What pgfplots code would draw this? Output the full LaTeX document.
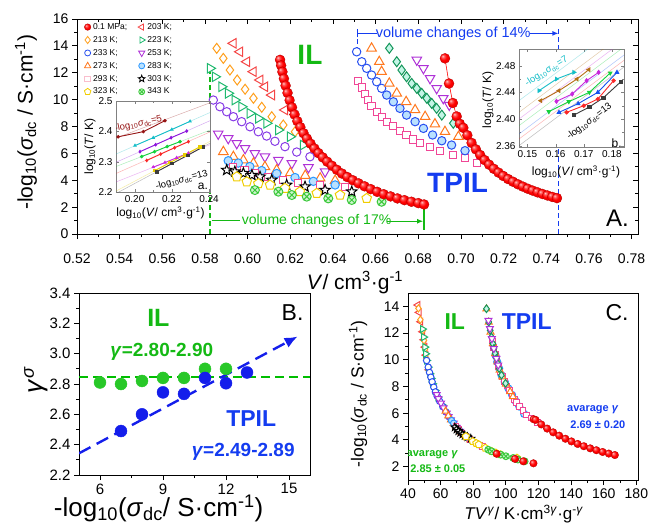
\documentclass[border=0pt]{standalone}
\usepackage{fontspec}
\setmainfont{Liberation Sans}
\usepackage{pgfplots}
\pgfplotsset{compat=1.18}
\usetikzlibrary{plotmarks,arrows.meta}
\newcommand{\fs}[1]{\fontsize{#1}{#1}\selectfont}
\definecolor{c203}{RGB}{245,70,70}
\definecolor{c213}{RGB}{255,160,30}
\definecolor{c223}{RGB}{30,185,110}
\definecolor{c233}{RGB}{40,80,240}
\definecolor{c233v}{RGB}{135,60,230}
\definecolor{c253}{RGB}{175,50,215}
\definecolor{c273}{RGB}{255,120,30}
\definecolor{c283}{RGB}{40,150,255}
\definecolor{c283f}{RGB}{185,225,255}
\definecolor{c293}{RGB}{240,70,150}
\definecolor{c293f}{RGB}{250,190,205}
\definecolor{c323}{RGB}{240,205,0}
\definecolor{c343}{RGB}{60,200,60}
\definecolor{c343f}{RGB}{205,245,205}
\definecolor{cDia}{RGB}{20,150,90}
\definecolor{cDiaf}{RGB}{195,245,230}
\definecolor{cGreen}{RGB}{20,185,20}
\definecolor{cBlue}{RGB}{20,60,240}
\definecolor{cBg}{RGB}{40,200,40}
\definecolor{cBgl}{RGB}{0,190,0}
\definecolor{cBb}{RGB}{20,30,235}
\definecolor{iDR}{RGB}{150,20,20}
\definecolor{iCy}{RGB}{20,190,200}
\definecolor{iPu}{RGB}{140,20,220}
\definecolor{iGr}{RGB}{20,210,60}
\definecolor{iRe}{RGB}{250,40,40}
\definecolor{iMa}{RGB}{200,40,220}
\definecolor{iYe}{RGB}{230,205,0}
\definecolor{iBk}{RGB}{60,60,60}
\definecolor{iBr}{RGB}{180,110,20}
\definecolor{iBl}{RGB}{20,80,240}
\pgfdeclareplotmark{fivestar}{%
  \pgfpathmoveto{\pgfpointpolar{90}{\pgfplotmarksize}}%
  \pgfpathlineto{\pgfpointpolar{126}{0.42\pgfplotmarksize}}%
  \pgfpathlineto{\pgfpointpolar{162}{\pgfplotmarksize}}%
  \pgfpathlineto{\pgfpointpolar{198}{0.42\pgfplotmarksize}}%
  \pgfpathlineto{\pgfpointpolar{234}{\pgfplotmarksize}}%
  \pgfpathlineto{\pgfpointpolar{270}{0.42\pgfplotmarksize}}%
  \pgfpathlineto{\pgfpointpolar{306}{\pgfplotmarksize}}%
  \pgfpathlineto{\pgfpointpolar{342}{0.42\pgfplotmarksize}}%
  \pgfpathlineto{\pgfpointpolar{18}{\pgfplotmarksize}}%
  \pgfpathlineto{\pgfpointpolar{54}{0.42\pgfplotmarksize}}%
  \pgfpathclose\pgfusepathqfillstroke}
\pgfdeclareradialshading{redball}{\pgfpoint{-12bp}{12bp}}{color(0bp)=(red!20!white); color(7bp)=(red!65!white); color(17bp)=(red); color(34bp)=(red!90!black); color(50bp)=(red!72!black)}
\pgfdeclareplotmark{rball}{%
  \pgfpathcircle{\pgfpointorigin}{\pgfplotmarksize}%
  \pgfshadepath{redball}{0}%
  \pgfsetstrokecolor{red!70!black}\pgfsetlinewidth{0.3pt}%
  \pgfusepath{stroke}}
\pgfplotsset{
  base/.style={scale only axis, anchor=north west, tick align=outside, xtick pos=left, ytick pos=left,
    major tick length=5pt, minor tick length=3pt, axis line style={line width=1pt},
    every tick/.append style={line width=0.9pt, black}, /pgf/number format/assume math mode=true},
  om/.style 2 args={only marks, forget plot, mark=#1, mark options={draw=#2, fill=white, line width=1pt, solid}},
  ball/.style={only marks, forget plot, mark=rball},
  il/.style={forget plot, mark=*, mark size=1.3pt, line width=0.9pt},
  pale/.style={forget plot, line width=0.5pt, opacity=0.35},
}
\begin{document}
\begin{tikzpicture}
\path[use as bounding box] (0,0) rectangle (652pt,-523pt);
% ================= Panel A =================
\begin{axis}[base, at={(77pt,-19pt)}, width=561pt, height=215pt,
  xmin=0.52, xmax=0.783, ymin=0, ymax=16,
  xtick={0.52,0.54,0.56,0.58,0.60,0.62,0.64,0.66,0.68,0.70,0.72,0.74,0.76,0.78},
  ytick={0,2,4,6,8,10,12,14,16}, minor x tick num=1, minor y tick num=1,
  xticklabel style={/pgf/number format/fixed,/pgf/number format/fixed zerofill,/pgf/number format/precision=2, yshift=-11pt},
  tick label style={font=\fs{14}},
  xlabel={\textit{V}/ cm\textsuperscript{3}·g\textsuperscript{-1}},
  ylabel={-log\textsubscript{10}(\textit{σ}\textsubscript{dc} / S·cm\textsuperscript{-1})},
  every axis x label/.style={at={(axis description cs:0.4955,-0.225)},anchor=center,font=\fs{21}},
  every axis y label/.style={at={(axis description cs:-0.0909,0.52)},anchor=center,rotate=90,font=\fs{21}},
  legend columns=2, legend cell align=left,
  legend style={at={(axis description cs:0.0125,0.99)}, anchor=north west, draw=none, fill=none,
    font=\fs{8.5}, row sep=1.5pt, inner sep=0pt, /tikz/every even column/.append style={column sep=9pt}},
]
% ---- IL isotherms
\addplot[om={triangle*}{c203}, every mark/.append style={rotate=90}, mark size=5.5pt] coordinates {
(0.5933,14.19)(0.5964,13.56)(0.5996,12.82)(0.6027,12.08)(0.6058,11.46)(0.6081,10.96)(0.6113,10.34)(0.6175,9.23)};
\addplot[om={diamond*}{c213}, mark size=5pt] coordinates {
(0.5855,13.82)(0.5886,13.07)(0.5917,12.20)(0.5951,11.46)(0.5988,10.77)(0.6027,10.10)(0.6066,9.43)(0.6113,8.73)(0.6167,8.11)(0.6222,7.61)};
\addplot[om={triangle*}{c223}, every mark/.append style={rotate=-90}, mark size=5.5pt] coordinates {
(0.5824,12.33)(0.5847,11.70)(0.5878,10.96)(0.5909,10.47)(0.5940,9.97)(0.5972,9.47)(0.6011,8.98)(0.6050,8.61)(0.6089,8.24)(0.6144,7.74)(0.6199,7.24)(0.6260,6.62)};
\addplot[om={*}{c233v}, mark size=4.2pt] coordinates {
(0.5839,9.97)(0.5870,9.47)(0.5902,9.10)(0.5933,8.73)(0.5972,8.36)(0.6011,7.98)(0.6050,7.61)(0.6089,7.29)(0.6128,6.90)(0.6175,6.50)(0.6230,6.10)(0.6292,5.75)};
\addplot[om={triangle*}{c253}, every mark/.append style={rotate=180}, mark size=5.5pt] coordinates {
(0.5862,7.45)(0.5909,7.12)(0.5949,6.75)(0.5988,6.38)(0.6034,6.00)(0.6081,5.75)(0.6144,5.50)(0.6207,5.26)(0.6285,4.95)(0.6363,4.64)};
\addplot[om={triangle*}{c273}, mark size=5.5pt] coordinates {
(0.5886,6.12)(0.5933,5.75)(0.5980,5.50)(0.6027,5.26)(0.6081,5.00)(0.6136,4.76)(0.6200,4.55)(0.6270,4.35)(0.6340,4.15)(0.6410,3.98)};
\addplot[om={*}{c283}, every mark/.append style={fill=c283f}, mark size=4.2pt] coordinates {
(0.5909,5.45)(0.5956,5.28)(0.6010,5.02)(0.6066,4.72)(0.6136,4.50)(0.6222,4.20)(0.6308,3.92)(0.6410,3.65)};
\addplot[om={square*}{c293}, mark size=3.6pt] coordinates {
(0.5933,5.00)(0.5985,4.78)(0.6034,4.52)(0.6097,4.26)(0.6167,4.02)(0.6237,3.77)(0.6340,3.62)(0.6456,3.52)};
\addplot[om={fivestar}{black}, mark size=5.5pt] coordinates {
(0.5902,4.76)(0.5940,4.64)(0.5980,4.52)(0.6020,4.38)(0.6058,4.26)(0.6113,4.02)(0.6183,3.65)(0.6269,3.52)(0.6363,3.27)(0.6488,3.15)};
\addplot[om={pentagon*}{c323}, mark size=5pt] coordinates {
(0.5949,4.26)(0.5996,3.89)(0.6050,3.75)(0.6105,3.65)(0.6175,3.40)(0.6245,3.15)(0.6324,3.03)(0.6433,2.90)(0.6558,2.65)};
\addplot[om={otimes*}{c343}, every mark/.append style={fill=c343f}, mark size=4.5pt] coordinates {
(0.6034,3.27)(0.6144,3.15)(0.6207,2.90)(0.6277,2.78)(0.6378,2.65)(0.6488,2.53)(0.6628,2.40)};
% ---- TPIL isotherms
\addplot[om={square*}{c293}, mark size=3.6pt] coordinates {
(0.6519,11.41)(0.6535,10.91)(0.6550,10.42)(0.6566,9.97)(0.6581,9.52)(0.6605,9.10)(0.6628,8.73)(0.6655,8.36)(0.6683,8.04)(0.6714,7.69)(0.6745,7.37)(0.6777,7.04)(0.6808,6.79)(0.6855,6.50)(0.6902,6.20)(0.6964,5.88)(0.7019,5.63)(0.7074,5.30)};
\addplot[om={*}{c233}, mark size=4.2pt] coordinates {
(0.6511,13.56)(0.6535,12.82)(0.6558,12.33)(0.6581,11.83)(0.6605,11.33)(0.6628,10.84)};
\addplot[om={*}{c233}, every mark/.append style={fill=c283f}, mark size=4.2pt] coordinates {
(0.6652,10.34)(0.6683,9.84)(0.6714,9.35)(0.6745,8.85)(0.6785,8.36)(0.6824,7.86)(0.6867,7.37)(0.6910,6.94)(0.6956,6.62)(0.7019,6.20)};
\addplot[om={triangle*}{c273}, mark size=5.5pt] coordinates {
(0.6581,13.82)(0.6617,12.82)(0.6628,12.08)(0.6664,11.21)(0.6699,10.47)(0.6743,9.84)(0.6785,9.23)(0.6832,8.73)(0.6878,8.18)(0.6925,7.61)(0.6988,7.24)};
\addplot[om={diamond*}{cDia}, every mark/.append style={fill=cDiaf}, mark size=5pt] coordinates {
(0.6664,13.82)(0.6699,12.82)(0.6722,12.20)(0.6745,11.70)(0.6769,11.21)(0.6793,10.84)(0.6816,10.47)(0.6840,10.10)(0.6863,9.72)(0.6886,9.35)(0.6910,8.85)(0.6964,8.24)};
\addplot[om={triangle*}{c253}, every mark/.append style={rotate=180}, mark size=5.5pt] coordinates {
(0.6793,12.95)(0.6824,12.33)(0.6855,11.58)(0.6886,10.84)(0.6917,10.10)(0.6945,9.60)};
% ---- 0.1 MPa isobars
\addplot[ball, mark size=5pt] coordinates {
(0.6152,12.96)(0.6157,12.54)(0.6163,12.07)(0.6170,11.56)(0.6178,11.04)(0.6187,10.50)(0.6197,9.95)(0.6208,9.42)(0.6220,8.89)(0.6233,8.40)(0.6247,7.95)(0.6262,7.50)(0.6278,7.10)(0.6295,6.72)(0.6313,6.36)(0.6332,6.02)(0.6352,5.70)(0.6373,5.38)(0.6395,5.08)(0.6418,4.78)(0.6442,4.50)(0.6467,4.24)(0.6493,4.00)(0.6520,3.77)(0.6548,3.55)(0.6577,3.34)(0.6607,3.14)(0.6638,2.96)(0.6670,2.80)(0.6702,2.65)(0.6735,2.52)(0.6768,2.40)(0.6800,2.30)(0.6827,2.20)};
\addplot[forget plot, red, line width=0.6pt, mark=rball, mark size=5pt] coordinates {
(0.6925,13.07)(0.6944,11.20)(0.6962,9.75)(0.6980,8.75)(0.6995,8.20)(0.7011,7.90)(0.7030,7.35)(0.7050,6.78)(0.7070,6.30)(0.7090,5.88)(0.7111,5.50)(0.7132,5.16)(0.7154,4.85)(0.7176,4.57)(0.7198,4.32)(0.7221,4.09)(0.7244,3.89)(0.7267,3.70)(0.7290,3.53)(0.7313,3.37)(0.7336,3.23)(0.7359,3.10)(0.7382,2.98)(0.7405,2.87)(0.7428,2.76)(0.7450,2.67)};
% ---- annotations
\node[font=\fs{28}\bfseries, text=cGreen] at (axis cs:0.6292,13.3) {IL};
\node[font=\fs{28}\bfseries, text=cBlue] at (axis cs:0.6984,3.8) {TPIL};
\node[font=\fs{24}] at (axis cs:0.7734,1.15) {A.};
\draw[cGreen, line width=1.3pt, dash pattern=on 5pt off 3pt] (axis cs:0.5823,0) -- (axis cs:0.5823,12.3);
\draw[cGreen, line width=1.2pt] (axis cs:0.5831,0.99) -- (axis cs:0.5964,0.99);
\node[text=cGreen, font=\fs{14}] at (axis cs:0.6323,0.99) {volume changes of 17\%};
\draw[cGreen, line width=1.2pt, -{Latex[length=6pt,width=5pt]}] (axis cs:0.6651,0.95) -- (axis cs:0.6823,0.95);
\draw[cGreen, line width=1.2pt] (axis cs:0.6827,1.93) -- (axis cs:0.6827,0.3);
\draw[cBlue, line width=1.2pt] (axis cs:0.6514,14.63) -- (axis cs:0.6514,15.23);
\draw[cBlue, line width=1.2pt] (axis cs:0.6514,14.93) -- (axis cs:0.6605,14.93);
\draw[cBlue, line width=1.2pt, dash pattern=on 5pt off 3pt] (axis cs:0.6514,14.5) -- (axis cs:0.6514,13.5);
\node[text=cBlue, font=\fs{14.5}] at (axis cs:0.6964,14.93) {volume changes of 14\%};
\draw[cBlue, line width=1.2pt, -{Latex[length=6pt,width=5pt]}] (axis cs:0.7324,14.93) -- (axis cs:0.7457,14.93);
\draw[cBlue, line width=1.2pt, dash pattern=on 5pt off 3pt] (axis cs:0.7457,15.23) -- (axis cs:0.7457,0);
% ---- legend
\addlegendimage{only marks, mark=rball, mark size=3.3pt}\addlegendentry{0.1 MPa;}
\addlegendimage{only marks, mark=triangle*, mark options={draw=c203, fill=white, line width=0.8pt, rotate=90}, mark size=3.6pt}\addlegendentry{203 K;}
\addlegendimage{only marks, mark=diamond*, mark options={draw=c213, fill=white, line width=0.8pt}, mark size=3.6pt}\addlegendentry{213 K;}
\addlegendimage{only marks, mark=triangle*, mark options={draw=c223, fill=white, line width=0.8pt, rotate=-90}, mark size=3.6pt}\addlegendentry{223 K;}
\addlegendimage{only marks, mark=*, mark options={draw=c233, fill=white, line width=0.8pt}, mark size=3pt}\addlegendentry{233 K;}
\addlegendimage{only marks, mark=triangle*, mark options={draw=c253, fill=white, line width=0.8pt, rotate=180}, mark size=3.6pt}\addlegendentry{253 K;}
\addlegendimage{only marks, mark=triangle*, mark options={draw=c273, fill=white, line width=0.8pt}, mark size=3.6pt}\addlegendentry{273 K;}
\addlegendimage{only marks, mark=*, mark options={draw=c283, fill=c283f, line width=0.8pt}, mark size=3pt}\addlegendentry{283 K;}
\addlegendimage{only marks, mark=square*, mark options={draw=c293f, fill=white, line width=0.8pt}, mark size=2.8pt}\addlegendentry{293 K;}
\addlegendimage{only marks, mark=fivestar, mark options={draw=black, fill=white, line width=0.8pt}, mark size=3.6pt}\addlegendentry{303 K;}
\addlegendimage{only marks, mark=pentagon*, mark options={draw=c323, fill=white, line width=0.8pt}, mark size=3.4pt}\addlegendentry{323 K;}
\addlegendimage{only marks, mark=otimes*, mark options={draw=c343, fill=c343f, line width=0.8pt}, mark size=3pt}\addlegendentry{343 K}
\end{axis}
% top/right inner ticks of panel A
\begin{axis}[scale only axis, anchor=north west, at={(77pt,-19pt)}, width=561pt, height=215pt,
  xmin=0.52, xmax=0.783, ymin=0, ymax=16, axis line style={draw=none},
  xtick={0.52,0.54,0.56,0.58,0.60,0.62,0.64,0.66,0.68,0.70,0.72,0.74,0.76,0.78},
  ytick={0,2,4,6,8,10,12,14,16}, minor x tick num=1, minor y tick num=1,
  xtick pos=right, ytick pos=right, tick align=inside, major tick length=5pt, minor tick length=3pt,
  every tick/.append style={line width=0.9pt, black}, xticklabels={}, yticklabels={}]
\end{axis}
% ================= Inset a =================
\begin{axis}[scale only axis, anchor=north west, at={(116pt,-101pt)}, width=94pt, height=91pt,
  xmin=0.19, xmax=0.2405, ymin=2.2, ymax=2.5,
  axis background/.style={fill=white}, axis line style={gray, line width=0.6pt},
  xtick={0.20,0.22,0.24}, ytick={2.2,2.3,2.4,2.5}, minor x tick num=1,
  tick align=inside, major tick length=3pt, minor tick length=2pt, every tick/.append style={gray},
  /pgf/number format/assume math mode=true, tick label style={font=\fs{10}},
  xticklabel style={/pgf/number format/fixed,/pgf/number format/fixed zerofill,/pgf/number format/precision=2},
  yticklabel style={/pgf/number format/fixed,/pgf/number format/fixed zerofill,/pgf/number format/precision=1},
  xlabel={log\textsubscript{10}(\textit{V}/ cm\textsuperscript{3}·g\textsuperscript{-1})},
  ylabel={log\textsubscript{10}(\textit{T}/ K)},
  every axis x label/.style={at={(axis description cs:0.473,-0.23)},anchor=center,font=\fs{12}},
  every axis y label/.style={at={(axis description cs:-0.277,0.5)},anchor=center,rotate=90,font=\fs{12}},
]
\addplot[pale, iDR] coordinates {(0.19,2.378)(0.2405,2.494)};
\addplot[pale, iCy] coordinates {(0.19,2.325)(0.2405,2.462)};
\addplot[pale, iPu] coordinates {(0.19,2.298)(0.2405,2.435)};
\addplot[pale, iGr] coordinates {(0.19,2.284)(0.2405,2.404)};
\addplot[pale, iRe] coordinates {(0.19,2.261)(0.2405,2.398)};
\addplot[pale, iMa] coordinates {(0.19,2.233)(0.2405,2.356)};
\addplot[pale, iYe] coordinates {(0.19,2.203)(0.2405,2.367)};
\addplot[pale, iBk] coordinates {(0.19,2.195)(0.2405,2.361)};
\addplot[il, iDR] coordinates {(0.1912,2.382)(0.2047,2.399)(0.2163,2.435)};
\addplot[il, iCy, mark=triangle*] coordinates {(0.2002,2.353)(0.2100,2.379)(0.2200,2.406)(0.2298,2.433)};
\addplot[il, iPu, mark=diamond*] coordinates {(0.2029,2.333)(0.2113,2.356)(0.2196,2.379)(0.2280,2.401)};
\addplot[il, iGr] coordinates {(0.2038,2.317)(0.2107,2.333)(0.2175,2.350)(0.2244,2.366)};
\addplot[il, iRe, mark=diamond*] coordinates {(0.2065,2.304)(0.2140,2.325)(0.2215,2.346)(0.2289,2.366)};
\addplot[il, iMa, mark=triangle*] coordinates {(0.2100,2.282)(0.2163,2.297)(0.2226,2.313)(0.2289,2.328)};
\addplot[il, iYe, mark=square*] coordinates {(0.2110,2.271)(0.2190,2.297)(0.2270,2.323)(0.2351,2.349)};
\addplot[il, iBk, mark=square*] coordinates {(0.2119,2.267)(0.2202,2.294)(0.2285,2.321)(0.2369,2.349)};
\node[text=iDR, font=\fs{9.5}, rotate=12] at (axis cs:0.2020,2.424) {-log\textsubscript{10}\textit{σ}\textsubscript{dc}=5};
\node[font=\fs{9.5}, rotate=15] at (axis cs:0.2253,2.239) {-log\textsubscript{10}\textit{σ}\textsubscript{dc}=13};
\node[font=\fs{12}] at (axis cs:0.2367,2.22) {a.};
\end{axis}
% ================= Inset b =================
\begin{axis}[scale only axis, anchor=north west, at={(519pt,-49pt)}, width=105pt, height=98pt,
  xmin=0.147, xmax=0.1843, ymin=2.358, ymax=2.505,
  axis background/.style={fill=white}, axis line style={gray, line width=0.6pt},
  xtick={0.15,0.16,0.17,0.18}, ytick={2.36,2.40,2.44,2.48}, minor y tick num=1,
  tick align=inside, major tick length=3pt, minor tick length=2pt, every tick/.append style={gray},
  /pgf/number format/assume math mode=true, tick label style={font=\fs{10}},
  xticklabel style={/pgf/number format/fixed,/pgf/number format/fixed zerofill,/pgf/number format/precision=2},
  yticklabel style={/pgf/number format/fixed,/pgf/number format/fixed zerofill,/pgf/number format/precision=2},
  xlabel={log\textsubscript{10}(\textit{V}/ cm\textsuperscript{3}·g\textsuperscript{-1})},
  ylabel={log\textsubscript{10}(\textit{T}/ K)},
  every axis x label/.style={at={(axis description cs:0.543,-0.255)},anchor=center,font=\fs{12}},
  every axis y label/.style={at={(axis description cs:-0.295,0.48)},anchor=center,rotate=90,font=\fs{12}},
]
\addplot[pale, iCy] coordinates {(0.147,2.4275)(0.1715,2.505)};
\addplot[pale, iBr] coordinates {(0.147,2.410)(0.1770,2.505)};
\addplot[pale, iMa] coordinates {(0.147,2.400)(0.1802,2.505)};
\addplot[pale, iGr] coordinates {(0.147,2.390)(0.1833,2.505)};
\addplot[pale, iBl] coordinates {(0.147,2.3775)(0.1843,2.496)};
\addplot[pale, iRe] coordinates {(0.147,2.370)(0.1843,2.488)};
\addplot[pale, iBk] coordinates {(0.147,2.360)(0.1843,2.478)};
\addplot[il, iCy, mark=triangle*, every mark/.append style={rotate=-90}, mark size=2pt] coordinates {(0.1541,2.4425)(0.1603,2.4600)(0.1665,2.4700)};
\addplot[il, iBr, mark=triangle*, every mark/.append style={rotate=90}, mark size=2pt] coordinates {(0.1547,2.4275)(0.1612,2.4425)(0.1676,2.4600)(0.1718,2.4740)};
\addplot[il, iMa, mark=diamond*, mark size=2pt] coordinates {(0.1603,2.4265)(0.1659,2.4375)(0.1710,2.4575)(0.1753,2.4700)};
\addplot[il, iGr, mark=triangle*, every mark/.append style={rotate=180}, mark size=2pt] coordinates {(0.1576,2.4110)(0.1647,2.4260)(0.1720,2.4400)(0.1794,2.4690)};
\addplot[il, iBl, mark=triangle*, mark size=2pt] coordinates {(0.1612,2.4100)(0.1680,2.4230)(0.1750,2.4400)(0.1818,2.4700)};
\addplot[il, iRe, mark=*, mark size=1.7pt] coordinates {(0.1639,2.4100)(0.1700,2.4200)(0.1750,2.4300)(0.1806,2.4575)};
\addplot[il, iBk, mark=square*, mark size=1.6pt] coordinates {(0.1665,2.4060)(0.1720,2.4180)(0.1770,2.4320)(0.1832,2.4560)};
\node[text=iCy, font=\fs{9.5}, rotate=32] at (axis cs:0.1568,2.471) {-log\textsubscript{10}\textit{σ}\textsubscript{dc}=7};
\node[font=\fs{9.5}, rotate=37] at (axis cs:0.1720,2.396) {-log\textsubscript{10}\textit{σ}\textsubscript{dc}=13};
\node[font=\fs{12}] at (axis cs:0.1817,2.364) {b.};
\end{axis}
% ================= Panel B =================
\begin{axis}[base, at={(79pt,-293pt)}, width=231pt, height=182pt,
  xmin=5, xmax=16, ymin=2.2, ymax=3.4,
  xtick={6,9,12,15}, ytick={2.2,2.4,2.6,2.8,3.0,3.2,3.4}, minor x tick num=1, minor y tick num=1,
  yticklabel style={/pgf/number format/fixed,/pgf/number format/fixed zerofill,/pgf/number format/precision=1},
  tick label style={font=\fs{15}},
  xlabel={-log\textsubscript{10}(\textit{σ}\textsubscript{dc}/ S·cm\textsuperscript{-1})},
  ylabel={\textit{γ}\textsuperscript{\textit{σ}}},
  every axis x label/.style={at={(axis description cs:0.345,-0.181)},anchor=center,font=\fs{26}},
  every axis y label/.style={at={(axis description cs:-0.185,0.522)},anchor=center,rotate=90,font=\fs{26}},
]
\addplot[forget plot, color=cBgl, line width=2pt, dash pattern=on 9pt off 5pt] coordinates {(5,2.843)(16,2.843)};
\addplot[forget plot, color=cBb, line width=2.4pt, dash pattern=on 13pt off 7pt, -{Latex[length=13pt,width=11pt]}] coordinates {(5,2.343)(15.41,3.113)};
\addplot[forget plot, only marks, mark=*, mark size=6pt, color=cBg] coordinates {(6,2.81)(7,2.80)(8,2.82)(9,2.84)(10,2.84)(11,2.90)(12,2.90)};
\addplot[forget plot, only marks, mark=*, mark size=6pt, color=cBb] coordinates {(7,2.49)(8,2.60)(9,2.745)(10,2.735)(11,2.84)(12,2.805)(13,2.876)};
\node[font=\fs{25}\bfseries, text=cGreen] at (axis cs:8.78,3.235) {IL};
\node[font=\fs{19}\bfseries, text=cGreen] at (axis cs:8.94,3.015) {\textit{γ}=2.80-2.90};
\node[font=\fs{23}\bfseries, text=cBlue] at (axis cs:13.2,2.575) {TPIL};
\node[font=\fs{19}\bfseries, text=cBlue] at (axis cs:12.82,2.354) {\textit{γ}=2.49-2.89};
\node[font=\fs{23}] at (axis cs:15.17,3.268) {B.};
\end{axis}
% ================= Panel C =================
\begin{axis}[base, at={(408pt,-293pt)}, width=230pt, height=187pt,
  xmin=40, xmax=181, ymin=1, ymax=15,
  xtick={40,60,80,100,120,140,160,180}, ytick={2,4,6,8,10,12,14}, minor x tick num=1, minor y tick num=1,
  tick label style={font=\fs{14}},
  xlabel={\textit{TV}\textsuperscript{\textit{γ}}/ K·cm\textsuperscript{3\textit{γ}}·g\textsuperscript{-\textit{γ}}},
  ylabel={-log\textsubscript{10}(\textit{σ}\textsubscript{dc} / S·cm\textsuperscript{-1})},
  every axis x label/.style={at={(axis description cs:0.504,-0.182)},anchor=center,font=\fs{17}},
  every axis y label/.style={at={(axis description cs:-0.217,0.46)},anchor=center,rotate=90,font=\fs{17.5}},
]
% IL master curve
\addplot[om={triangle*}{c203}, every mark/.append style={rotate=90}, mark size=4pt] coordinates {
(46.0,14.1)(46.8,13.55)(47.8,12.85)(49.0,12.1)(49.7,11.5)(50.35,10.95)(50.95,10.35)(52.8,9.25)};
\addplot[om={diamond*}{c213}, mark size=3.6pt] coordinates {
(46.4,13.85)(47.6,13.0)(49.1,12.2)(49.8,11.45)(50.5,10.8)(51.2,10.1)(52.4,9.45)(53.9,8.75)(55.3,8.1)(56.8,7.6)};
\addplot[om={triangle*}{c223}, every mark/.append style={rotate=-90}, mark size=4pt] coordinates {
(48.9,12.3)(49.6,11.7)(50.35,10.95)(50.85,10.45)(51.4,9.95)(52.4,9.45)(53.4,8.95)(54.2,8.6)(55.1,8.2)(56.6,7.7)(58.3,7.2)(61.1,6.6)};
\addplot[om={*}{c233}, mark size=3.2pt] coordinates {
(51.4,9.95)(52.4,9.45)(53.2,9.05)(54.0,8.7)(54.8,8.35)(55.8,7.95)(56.8,7.6)(57.8,7.3)(59.4,6.9)(61.3,6.5)(63.2,6.1)(64.9,5.75)};
\addplot[om={triangle*}{c253}, every mark/.append style={rotate=180}, mark size=4pt] coordinates {
(57.6,7.4)(58.6,7.1)(60.2,6.75)(61.8,6.4)(63.7,6.0)(64.9,5.75)(66.3,5.5)(68.0,5.25)(69.9,4.95)(72.0,4.65)};
\addplot[om={triangle*}{c273}, mark size=4pt] coordinates {
(63.0,6.15)(64.7,5.8)(66.3,5.5)(68.0,5.25)(69.5,5.0)(71.4,4.75)(72.8,4.55)(74.6,4.35)(76.6,4.15)(78.1,4.0)};
\addplot[om={*}{c283}, every mark/.append style={fill=c283f}, mark size=3.2pt] coordinates {
(66.7,5.45)(68.0,5.25)(69.5,5.0)(71.6,4.72)(73.2,4.5)(76.1,4.2)(79.3,3.92)(83.4,3.65)};
\addplot[om={square*}{c293}, mark size=2.8pt] coordinates {
(69.5,5.0)(71.2,4.78)(73.0,4.52)(75.5,4.26)(77.9,4.02)(81.6,3.77)(83.9,3.62)(85.7,3.5)};
\addplot[om={fivestar}{black}, mark size=4pt] coordinates {
(68.7,4.95)(69.8,4.8)(70.9,4.67)(72.1,4.55)(73.4,4.43)(74.8,4.32)(76.5,4.22)(78.5,4.1)};
\addplot[om={pentagon*}{c323}, mark size=3.8pt] coordinates {
(75.5,4.26)(79.7,3.89)(81.9,3.75)(83.4,3.65)(87.4,3.4)(91.3,3.15)(93.9,3.03)(96.8,2.9)(106.8,2.65)};
\addplot[om={otimes*}{c343}, every mark/.append style={fill=c343f}, mark size=3.4pt] coordinates {
(89.2,3.27)(91.3,3.15)(96.8,2.9)(100.0,2.78)(104.5,2.65)(107.4,2.53)(111.5,2.4)};
\addplot[ball, mark size=3.8pt] coordinates {(94.4,2.96)(105.6,2.58)(110.7,2.4)(116.9,2.25)};
% TPIL master curve
\addplot[om={*}{c283}, every mark/.append style={fill=c283f}, mark size=3.6pt] coordinates {
(93.6,10.34)(94.7,9.84)(95.9,9.35)(97.3,8.85)(99.3,8.36)(101.5,7.86)(103.8,7.37)(105.8,6.94)(108.2,6.5)(111.2,5.95)};
\addplot[om={square*}{c293}, mark size=2.8pt] coordinates {
(91.9,11.41)(92.5,10.91)(93.5,10.42)(94.5,9.97)(95.5,9.52)(96.5,9.1)(97.8,8.73)(99.3,8.36)(100.6,8.04)(102.3,7.69)(103.8,7.37)(105.3,7.04)(106.5,6.79)(108.2,6.5)(110.5,6.2)(112.8,5.88)(115.5,5.63)(119.5,5.3)};
\addplot[ball, mark size=3.8pt] coordinates {
(117.0,5.55)(118.2,5.5)(121.7,5.16)(125.3,4.85)(129.0,4.57)(132.7,4.32)(136.5,4.09)(140.2,3.89)(144.0,3.70)(147.8,3.53)(151.7,3.37)(155.5,3.23)(159.3,3.10)(163.1,2.98)(166.8,2.87)};
\addplot[om={triangle*}{c273}, mark size=4pt] coordinates {
(88.1,13.82)(89.5,12.82)(90.6,12.08)(92.0,11.21)(93.4,10.47)(94.7,9.84)(96.2,9.23)(97.8,8.73)(100.0,8.18)(102.6,7.61)(104.3,7.24)};
\addplot[om={diamond*}{cDia}, every mark/.append style={fill=cDiaf}, mark size=3.8pt] coordinates {
(88.1,13.82)(89.5,12.82)(90.4,12.2)(91.2,11.7)(92.0,11.21)(92.6,10.84)(93.4,10.47)(94.2,10.1)(95.0,9.72)(95.9,9.35)(97.3,8.85)(99.8,8.24)};
\addplot[om={triangle*}{c253}, every mark/.append style={rotate=180}, mark size=4pt] coordinates {
(89.3,12.95)(90.2,12.33)(91.4,11.58)(92.6,10.84)(94.2,10.1)(95.3,9.6)};
\node[font=\fs{23}\bfseries, text=cGreen] at (axis cs:68.7,12.87) {IL};
\node[font=\fs{23}\bfseries, text=cBlue] at (axis cs:112.8,12.87) {TPIL};
\node[font=\fs{23}] at (axis cs:168.2,13.5) {C.};
\node[font=\fs{11}\bfseries, text=cBlue] at (axis cs:153.3,6.27) {avarage \textit{γ}};
\node[font=\fs{11}\bfseries, text=cBlue] at (axis cs:156.4,5.17) {2.69 ± 0.20};
\node[font=\fs{11}\bfseries, text=cGreen] at (axis cs:54.9,2.91) {avarage \textit{γ}};
\node[font=\fs{11}\bfseries, text=cGreen] at (axis cs:58.3,1.83) {2.85 ± 0.05};
\end{axis}
\end{tikzpicture}
\end{document}
